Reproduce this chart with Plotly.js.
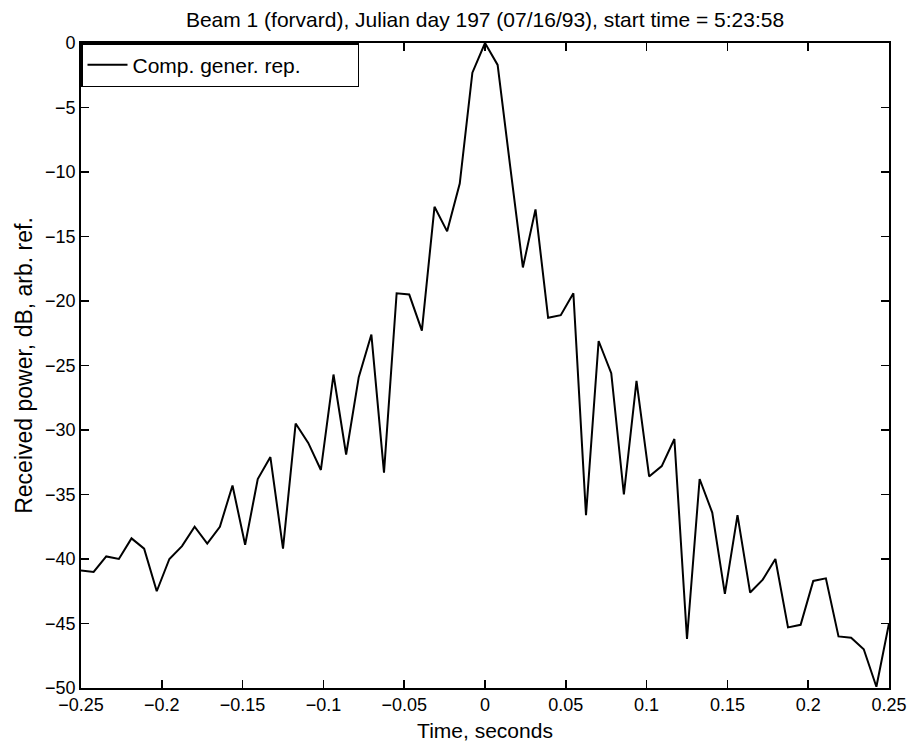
<!DOCTYPE html>
<html>
<head>
<meta charset="utf-8">
<script src="https://cdn.plot.ly/plotly-3.0.1.min.js"></script>
<style>html,body{margin:0;padding:0;background:#fff;}#chart{width:913px;height:742px;}</style>
</head>
<body>
<div id="chart"></div>
<script>
// Time axis (seconds): samples every 1/128 s from -0.25 to 0.25
const timeSec = [
  -0.25, -0.2421875, -0.234375, -0.2265625, -0.21875, -0.2109375, -0.203125, -0.1953125,
  -0.1875, -0.1796875, -0.171875, -0.1640625, -0.15625, -0.1484375, -0.140625, -0.1328125,
  -0.125, -0.1171875, -0.109375, -0.1015625, -0.09375, -0.0859375, -0.078125, -0.0703125,
  -0.0625, -0.0546875, -0.046875, -0.0390625, -0.03125, -0.0234375, -0.015625, -0.0078125,
  0, 0.0078125, 0.015625, 0.0234375, 0.03125, 0.0390625, 0.046875, 0.0546875,
  0.0625, 0.0703125, 0.078125, 0.0859375, 0.09375, 0.1015625, 0.109375, 0.1171875,
  0.125, 0.1328125, 0.140625, 0.1484375, 0.15625, 0.1640625, 0.171875, 0.1796875,
  0.1875, 0.1953125, 0.203125, 0.2109375, 0.21875, 0.2265625, 0.234375, 0.2421875, 0.25
];
// Received power, dB (arb. ref.)
const powerDb = [
  -40.9, -41.0, -39.8, -40.0, -38.4, -39.2, -42.5, -40.0,
  -39.0, -37.5, -38.8, -37.5, -34.3, -38.9, -33.8, -32.1,
  -39.2, -29.5, -31.0, -33.1, -25.7, -31.9, -25.9, -22.6,
  -33.3, -19.4, -19.5, -22.3, -12.7, -14.6, -10.9, -2.3,
  0.0, -1.7, -9.6, -17.4, -12.9, -21.3, -21.1, -19.4,
  -36.6, -23.1, -25.6, -35.0, -26.2, -33.6, -32.8, -30.7,
  -46.2, -33.8, -36.4, -42.7, -36.6, -42.6, -41.6, -40.0,
  -45.3, -45.1, -41.7, -41.5, -46.0, -46.1, -47.0, -49.9, -45.0
];
const seriesName = "Comp. gener. rep.";
const xTickVals = [-0.25, -0.2, -0.15, -0.1, -0.05, 0, 0.05, 0.1, 0.15, 0.2, 0.25];
const xTickText = ["\u22120.25", "\u22120.2", "\u22120.15", "\u22120.1", "\u22120.05", "0", "0.05", "0.1", "0.15", "0.2", "0.25"];
const yTickVals = [0, -5, -10, -15, -20, -25, -30, -35, -40, -45, -50];
const yTickText = ["0", "\u22125", "\u221210", "\u221215", "\u221220", "\u221225", "\u221230", "\u221235", "\u221240", "\u221245", "\u221250"];
const titleText = "Beam 1 (forvard), Julian day 197 (07/16/93), start time = 5:23:58";
const xTitle = "Time, seconds";
const yTitle = "Received power, dB, arb. ref.";

const FONT = '"Liberation Sans", Arial, Helvetica, sans-serif';

const trace = {
  x: timeSec, y: powerDb, type: 'scatter', mode: 'lines', name: seriesName,
  line: {color: '#000', width: 2}
};

const axisCommon = {
  showline: true, linecolor: '#000', linewidth: 1.8, mirror: 'ticks',
  ticks: 'inside', ticklen: 8, tickwidth: 1.5, tickcolor: '#000',
  showgrid: false, zeroline: false,
  tickfont: {family: FONT, size: 18, color: '#000'}
};

const layout = {
  width: 913, height: 742,
  paper_bgcolor: '#fff', plot_bgcolor: '#fff',
  margin: {l: 81, r: 24, t: 43, b: 54},
  font: {family: FONT, color: '#000'},
  title: {text: titleText, font: {family: FONT, size: 21, color: '#000'},
          x: 0.5, xref: 'paper', xanchor: 'center', y: 0.974, yref: 'container', yanchor: 'middle'},
  xaxis: Object.assign({}, axisCommon, {
    range: [-0.25, 0.25], tickmode: 'array', tickvals: xTickVals, ticktext: xTickText,
    title: {text: xTitle, font: {family: FONT, size: 21, color: '#000'}, standoff: 10}
  }),
  yaxis: Object.assign({}, axisCommon, {
    range: [-50, 0], tickmode: 'array', tickvals: yTickVals, ticktext: yTickText,
    title: {text: yTitle, font: {family: FONT, size: 23, color: '#000'}, standoff: 6}
  }),
  showlegend: true,
  legend: {
    orientation: 'h',
    x: 0, y: 1, xanchor: 'left', yanchor: 'top', xref: 'paper', yref: 'paper',
    bgcolor: '#fff', bordercolor: '#000', borderwidth: 1.5,
    font: {family: FONT, size: 21, color: '#000'},
    itemwidth: 40,
    entrywidth: 220, entrywidthmode: 'pixels'
  }
};

Plotly.newPlot('chart', [trace], layout, {staticPlot: true, displayModeBar: false});
</script>
</body>
</html>
